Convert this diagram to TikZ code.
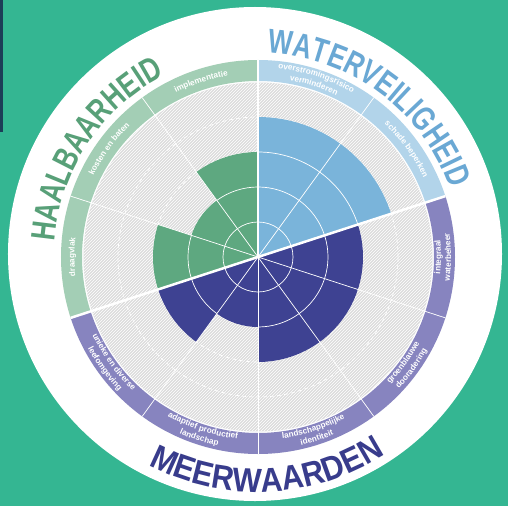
\documentclass[tikz,border=0pt]{standalone}
\usepackage{fontspec}
\usetikzlibrary{patterns,decorations.text}
\newfontfamily\wheelfont{Liberation Sans}
\newfontfamily\titlefont{Liberation Sans}[FakeStretch=0.76]
\newfontfamily\bottomtitlefont{Liberation Sans}[FakeStretch=0.9]
\definecolor{bgteal}{RGB}{52,182,146}
\definecolor{darkstrip}{RGB}{28,62,88}
\definecolor{hatchgrey}{RGB}{220,220,220}
\definecolor{greenwedge}{RGB}{94,168,128}
\definecolor{greenband}{RGB}{163,206,181}
\definecolor{greentitle}{RGB}{88,160,120}
\definecolor{bluewedge}{RGB}{122,180,218}
\definecolor{blueband}{RGB}{178,212,234}
\definecolor{bluetitle}{RGB}{106,168,212}
\definecolor{purplewedge}{RGB}{62,66,146}
\definecolor{purpleband}{RGB}{135,132,191}
\definecolor{purpletitle}{RGB}{56,60,140}
\def\bandstyle{\wheelfont\bfseries\fontsize{8.2}{8.2}\selectfont}
\def\titlestyle{\titlefont\bfseries\fontsize{34}{34}\selectfont}
\def\bottomtitlestyle{\bottomtitlefont\bfseries\fontsize{34}{34}\selectfont}
% text on a clockwise / counter-clockwise arc round the centre
\def\cwtext[#1](#2:#3)#4{\path[decorate,decoration={text along path,text align=center,text color=#1,text={#4}}] ({#2+60}:#3) arc[start angle=#2+60,end angle=#2-60,radius=#3];}
\def\ccwtext[#1](#2:#3)#4{\path[decorate,decoration={text along path,text align=center,text color=#1,text={#4}}] ({#2-60}:#3) arc[start angle=#2-60,end angle=#2+60,radius=#3];}
\tikzset{
	gridline/.style={white, line width=0.7pt},
	gridring/.style={white, line width=0.7pt, dash pattern=on 4pt off 3pt},
	groupline/.style={white, line width=2.5pt},
}

\begin{document}
\begin{tikzpicture}[x=1pt, y=1pt]
			%%%%% START %%%%%
			\useasboundingbox (-258,-249) rectangle (250,257);
			\fill[bgteal] (-258,-249) rectangle (250,257);
			\fill[darkstrip] (-258,257) rectangle (-255,125);
			
			\fill[white] (-3,3) circle[radius=247];
			
			% hatched disc
			\fill[hatchgrey] (0,0) circle[radius=174.5];
			\fill[pattern=north east lines, pattern color=white] (0,0) circle[radius=174.5];
			\foreach \k in {1,...,4}
				\draw[gridring] (0,0) circle[radius=\k*35];
			
			% band segment + wedge per criterion
			\foreach \a/\v/\w/\b in {54/4/bluewedge/blueband, 18/4/bluewedge/blueband,
					-18/3/purplewedge/purpleband, -54/3/purplewedge/purpleband, -90/3/purplewedge/purpleband,
					-126/2/purplewedge/purpleband, -162/3/purplewedge/purpleband,
					162/3/greenwedge/greenband, 126/2/greenwedge/greenband, 90/3/greenwedge/greenband}
			{
				\fill[\b] (\a:176) arc[start angle=\a, end angle=\a+36, radius=176] -- ({\a+36}:197) arc[start angle=\a+36, end angle=\a, radius=197] -- cycle;
				\fill[\w] (0,0) -- ({\a}:{\v*35}) arc[start angle=\a, end angle=\a+36, radius=\v*35] -- cycle;
				\pgfmathtruncatemacro\n{\v-1}
				\foreach \k in {1,...,\n}
					\draw[gridline] ({\a}:{\k*35}) arc[start angle=\a, end angle=\a+36, radius=\k*35];
			}
			
			\foreach \a in {-162,-126,...,162}
				\draw[gridline] (0,0) -- (\a:197);
			\draw[groupline] (0,0) -- (90:197);
			\draw[groupline] (18:197) -- (198:197);
			
			% band labels
			\cwtext[white](108:183.5){|\bandstyle|implementatie}
			\cwtext[white](144:183.5){|\bandstyle|kosten en baten}
			\cwtext[white](180:183.5){|\bandstyle|draagvlak}
			\cwtext[white](72:189.5){|\bandstyle|overstromingsrisico}
			\cwtext[white](72:179.5){|\bandstyle|verminderen}
			\cwtext[white](36:183.5){|\bandstyle|schade beperken}
			\ccwtext[white](0:183){|\bandstyle|integraal}
			\ccwtext[white](0:193){|\bandstyle|waterbeheer}
			\ccwtext[white](-36:183){|\bandstyle|groenblauwe}
			\ccwtext[white](-36:193){|\bandstyle|dooradering}
			\ccwtext[white](-72:183){|\bandstyle|landschappelijke}
			\ccwtext[white](-72:193){|\bandstyle|identiteit}
			\ccwtext[white](-108:183){|\bandstyle|adaptief productief}
			\ccwtext[white](-108:193){|\bandstyle|landschap}
			\ccwtext[white](-144:183){|\bandstyle|unieke en diverse}
			\ccwtext[white](-144:193){|\bandstyle|leefomgeving}
			
			% group titles
			\cwtext[greentitle](146.5:204){|\titlestyle|HAALBAARHEID}
			\cwtext[bluetitle](53.5:204){|\titlestyle|WATERVEILIGHEID}
			\ccwtext[purpletitle](272.5:235){|\bottomtitlestyle|MEERWAARDEN}
			
			%%%%% END %%%%%
\end{tikzpicture}
\end{document}
